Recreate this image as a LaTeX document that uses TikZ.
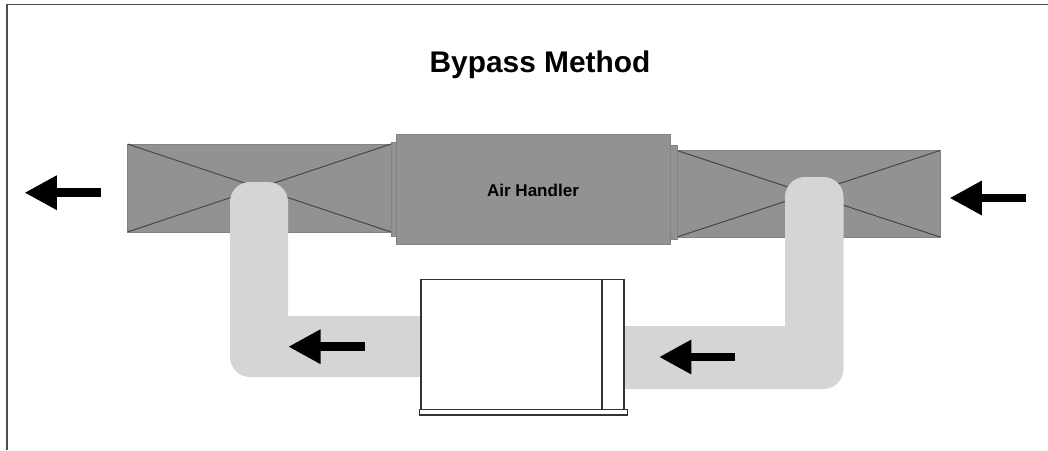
\documentclass[tikz,border=0pt]{standalone}
\usepackage{fontspec}
\setmainfont{Liberation Sans}
\usetikzlibrary{arrows.meta}
\definecolor{ductgray}{HTML}{929292}
\definecolor{pipegray}{HTML}{D5D5D5}
\definecolor{linegray}{HTML}{444444}
\tikzset{
  duct/.style={fill=ductgray, draw=ductgray!90!black, line width=.5pt},
  crossline/.style={draw=linegray, line width=.55pt},
  pipe/.style={fill=pipegray},
  unit/.style={draw=black!80, fill=white, line width=.8pt},
  flow/.style={-{Triangle[length=18.4pt, width=18.4pt]}, line width=4.9pt, black}
}

\begin{document}
\begin{tikzpicture}[x=.02cm, y=-.02cm]
  \useasboundingbox (0,0) rectangle (1048,450);
  \draw [draw=black!70, line width=1.1pt] (7,450) -- (7,4.5) -- (1048,4.5);
  \node (title) at (540,65) {\fontsize{17}{20}\selectfont\bfseries Bypass Method};
  % ducts
  \draw [duct] (127.5,144) rectangle (391,232);
  \draw [crossline] (127.5,144) -- (391,232);
  \draw [crossline] (127.5,232) -- (391,144);
  \draw [duct] (677,150.5) rectangle (940,237);
  \draw [crossline] (677,150.5) -- (940,237);
  \draw [crossline] (677,237) -- (940,150.5);
  \draw [duct] (391,142) rectangle (398,236);
  \draw [duct] (670,145.5) rectangle (677,239);
  \draw [duct] (396,134.5) rectangle (670,244) node[pos=.5, yshift=-.4pt] (handler) {\fontsize{9.7}{12}\selectfont\bfseries Air Handler};
  % pipes
  \fill [pipe] (421,316) -- (288,316) [rounded corners=.4cm] -- (288,182) -- (230,182) -- (230,377) [sharp corners] -- (421,377) -- cycle;
  \fill [pipe] (624,326) -- (785,326) [rounded corners=.4cm] -- (785,177) -- (843.5,177) -- (843.5,389) [sharp corners] -- (624,389) -- cycle;
  % unit
  \draw [unit] (421,279.5) rectangle (624,410);
  \draw [unit] (602,279.5) -- (602,410);
  \draw [unit] (419.5,409.5) rectangle (627.5,415);
  % flow
  \coordinate (outfrom) at (100.5,192.7);
  \coordinate (outto) at (24.5,192.7);
  \coordinate (infrom) at (1026,198);
  \coordinate (into) at (949.5,198);
  \coordinate (rightfrom) at (735,357);
  \coordinate (rightto) at (659,357);
  \coordinate (leftfrom) at (364.5,346.7);
  \coordinate (leftto) at (288.2,346.7);
  \draw [flow] (outfrom) -- (outto);
  \draw [flow] (infrom) -- (into);
  \draw [flow] (rightfrom) -- (rightto);
  \draw [flow] (leftfrom) -- (leftto);
\end{tikzpicture}
\end{document}
